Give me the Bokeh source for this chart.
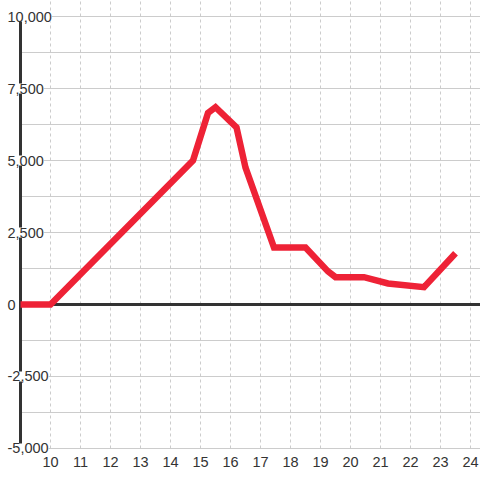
from bokeh.plotting import figure
from bokeh.models import Label, FixedTicker
from bokeh.embed import file_html
from bokeh.resources import INLINE

# Data
hours = [9, 10, 14.75, 15.25, 15.5, 16.2, 16.5, 17.45, 18.5, 19.25, 19.5, 20.45, 21.25, 22.45, 23.5]
values = [0, 0, 5000, 6650, 6850, 6150, 4750, 1980, 1980, 1150, 950, 950, 730, 600, 1780]

x_ticks = list(range(10, 25))
y_ticks = [10000, 7500, 5000, 2500, 0, -2500, -5000]
y_tick_labels = ["10,000", "7,500", "5,000", "2,500", "0", "-2,500", "-5,000"]
y_minor = [8750, 6250, 3750, 1250, -1250, -3750]

FONT = "Liberation Sans"
TEXT = "#333333"
GRID = "#cccccc"
DARK = "#333333"
RED = "#ee2236"

axis_x = 9
x_start, x_end = 8.3333, 24.3333
y_start, y_end = -5277.8, 10555.6

p = figure(width=480, height=480, x_range=(x_start, x_end), y_range=(y_start, y_end),
           output_backend="svg", toolbar_location=None,
           min_border_left=0, min_border_right=0, min_border_top=0, min_border_bottom=24)
p.outline_line_color = None
p.background_fill_color = "white"
p.xgrid.visible = False
p.ygrid.visible = False
p.yaxis.visible = False

# x axis: labels only
p.xaxis.ticker = FixedTicker(ticks=x_ticks)
p.xaxis.axis_line_color = None
p.xaxis.major_tick_line_color = None
p.xaxis.minor_tick_line_color = None
p.xaxis.major_tick_out = 0
p.xaxis.major_tick_in = 0
p.xaxis.minor_tick_out = 0
p.xaxis.major_label_standoff = 0
p.xaxis.major_label_text_font = FONT
p.xaxis.major_label_text_font_size = "14.5px"
p.xaxis.major_label_text_color = TEXT

# grid lines, bounded like the original
y_grid = sorted(y_ticks + y_minor)
p.segment(x0=[axis_x] * len(y_grid), y0=y_grid, x1=[x_end] * len(y_grid), y1=y_grid,
          line_color=GRID, line_width=1)
p.segment(x0=x_ticks, y0=[min(y_ticks)] * len(x_ticks), x1=x_ticks, y1=[y_end] * len(x_ticks),
          line_color=GRID, line_width=1, line_dash="3 3")

# dark axis lines (vertical at left, horizontal at zero)
p.segment(x0=[axis_x], y0=[min(y_ticks)], x1=[axis_x], y1=[max(y_ticks)],
          line_color=DARK, line_width=3)
p.segment(x0=[axis_x], y0=[0], x1=[x_end], y1=[0], line_color=DARK, line_width=3)

# data line
p.line(hours, values, line_color=RED, line_width=6.5, line_join="miter")

# y tick labels drawn over the plot
for v, t in zip(y_ticks, y_tick_labels):
    p.add_layout(Label(x=x_start, y=v, x_units="data", y_units="data", text=t,
                       x_offset=7, text_align="left", text_baseline="middle",
                       text_font=FONT, text_font_size="14.5px", text_color=TEXT,
                       background_fill_color="white"))

open("out.html", "w").write(file_html(p, INLINE))
